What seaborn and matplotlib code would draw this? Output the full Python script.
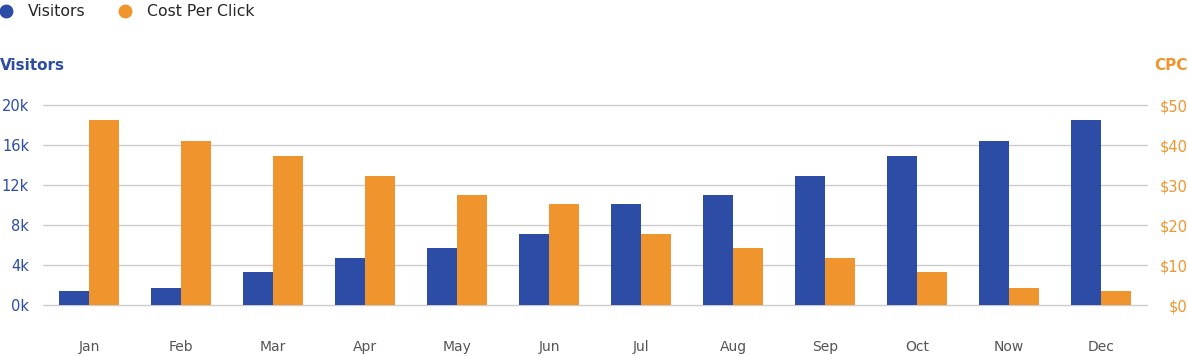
import pandas as pd
import numpy as np
import matplotlib.pyplot as plt
from matplotlib.lines import Line2D
import seaborn as sns

months = ['Jan', 'Feb', 'Mar', 'Apr', 'May', 'Jun', 'Jul', 'Aug', 'Sep', 'Oct', 'Now', 'Dec']
visitors = [1400, 1700, 3300, 4700, 5700, 7100, 10100, 11000, 12900, 14900, 16400, 18500]
cpc = [46.2, 41.0, 37.2, 32.2, 27.5, 25.2, 17.8, 14.2, 11.8, 8.2, 4.2, 3.5]

BLUE = '#2d4ca6'
ORANGE = '#f0952d'
GRID = '#cccccc'

sns.set_style('white')
plt.rcParams['font.family'] = ['DejaVu Sans']

# long tables, each series only filled on its own axis so dodge keeps both slots
vis_df = pd.DataFrame({'month': months * 2,
                       'series': ['Visitors'] * 12 + ['Cost Per Click'] * 12,
                       'value': visitors + [np.nan] * 12})
cpc_df = pd.DataFrame({'month': months * 2,
                       'series': ['Visitors'] * 12 + ['Cost Per Click'] * 12,
                       'value': [np.nan] * 12 + cpc})
order = ['Visitors', 'Cost Per Click']
pal = {'Visitors': BLUE, 'Cost Per Click': ORANGE}

fig = plt.figure(figsize=(11.88, 3.56), dpi=100)
ax = fig.add_axes([43 / 1188, 1 - 305 / 356, (1147 - 43) / 1188, 200 / 356])
ax2 = ax.twinx()

sns.barplot(data=vis_df, x='month', y='value', hue='series', hue_order=order,
            palette=pal, order=months, width=0.65, saturation=1, linewidth=0,
            errorbar=None, legend=False, ax=ax)
sns.barplot(data=cpc_df, x='month', y='value', hue='series', hue_order=order,
            palette=pal, order=months, width=0.65, saturation=1, linewidth=0,
            errorbar=None, legend=False, ax=ax2)

ax.set_ylim(0, 20000)
ax2.set_ylim(0, 50)
ax.set_xlim(-0.5, 11.5)
ax.set_yticks(np.arange(0, 20001, 4000))
ax.set_yticklabels([f'{int(v / 1000)}k' for v in np.arange(0, 20001, 4000)])
ax2.set_yticks(np.arange(0, 51, 10))
ax2.set_yticklabels([f'${v}' for v in range(0, 51, 10)])

ax.yaxis.grid(True, color=GRID, linewidth=1)
for gl in ax.get_ygridlines():
    gl.set_clip_on(False)
ax.set_axisbelow(True)
ax2.set_zorder(ax.get_zorder() + 1)
ax2.patch.set_visible(False)

for a in (ax, ax2):
    for s in a.spines.values():
        s.set_visible(False)
    a.set_xlabel('')
    a.set_ylabel('')

ax.tick_params(axis='y', length=0, pad=10, labelsize=10.5, labelcolor=BLUE)
ax.tick_params(axis='x', length=0, pad=25, labelsize=10, labelcolor='#555555')
ax2.tick_params(axis='y', length=0, pad=29.5, labelsize=10.5, labelcolor=ORANGE)
for lab in ax2.get_yticklabels():
    lab.set_ha('right')

fig.text(0.0, 1 - 65 / 356, 'Visitors', color=BLUE, fontsize=11, fontweight='bold',
         ha='left', va='center')
fig.text(1.0, 1 - 65 / 356, 'CPC', color=ORANGE, fontsize=11, fontweight='bold',
         ha='right', va='center')

handles = [Line2D([], [], marker='o', linestyle='', color=BLUE, markersize=9, label='Visitors'),
           Line2D([], [], marker='o', linestyle='', color=ORANGE, markersize=9, label='Cost Per Click')]
fig.legend(handles=handles, loc='center left', bbox_to_anchor=(-0.0018, 1 - 12 / 356), ncol=2,
           frameon=False, fontsize=11.3, handlelength=1, handletextpad=0.9,
           columnspacing=2.0, borderaxespad=0, borderpad=0)

fig.savefig('out.png', dpi=100)
